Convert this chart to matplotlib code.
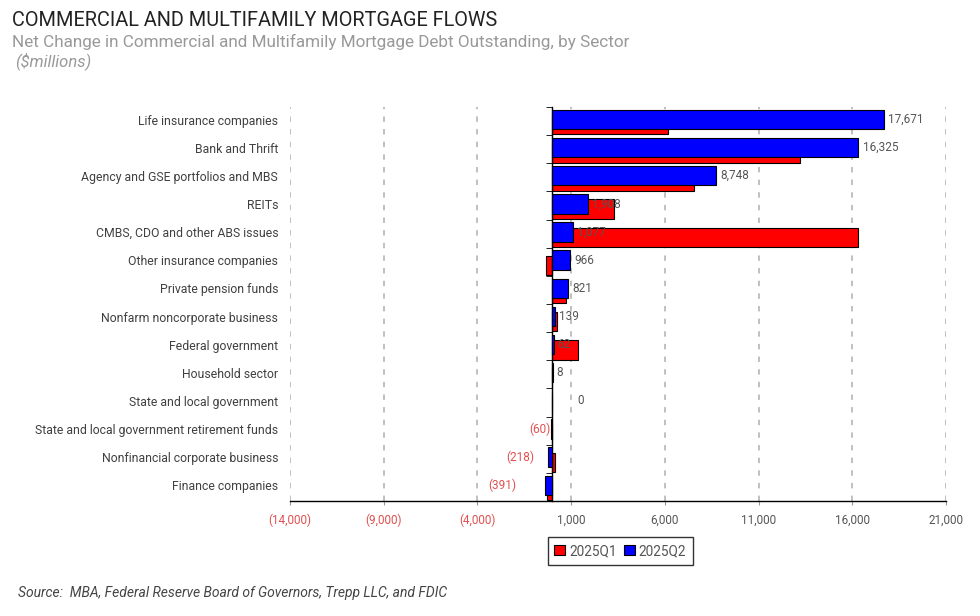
import numpy as np
import matplotlib
matplotlib.use("Agg")
import matplotlib.pyplot as plt
from matplotlib.transforms import blended_transform_factory

plt.rcParams['font.family'] = ['Roboto', 'DejaVu Sans']

sectors = ["Life insurance companies", "Bank and Thrift",
           "Agency and GSE portfolios and MBS", "REITs",
           "CMBS, CDO and other ABS issues", "Other insurance companies",
           "Private pension funds", "Nonfarm noncorporate business",
           "Federal government", "Household sector",
           "State and local government",
           "State and local government retirement funds",
           "Nonfinancial corporate business", "Finance companies"]
q1 = [6190, 13200, 7550, 3310, 16320, -340, 730, 250, 1370, 0, 0, -20, 130, -300]
q2 = [17671, 16325, 8748, 1908, 1077, 966, 821, 139, 62, 8, 0, -60, -218, -391]
xticks = [-14000, -9000, -4000, 1000, 6000, 11000, 16000, 21000]


def fmt(v):
    return f"({-v:,})" if v < 0 else f"{v:,}"


fig = plt.figure(figsize=(9.8, 6.16), dpi=100)
ax = fig.add_axes([0.2959, 0.1867, 0.6694, 0.6396])

y = np.arange(len(sectors))
ax.barh(y + 0.13, q1, height=0.69, color='#ff0000', edgecolor='black',
        linewidth=0.8, label='2025Q1', zorder=2)
ax.barh(y - 0.06, q2, height=0.69, color='#0000ff', edgecolor='black',
        linewidth=0.8, label='2025Q2', zorder=3)

ax.set_xlim(-14000, 21000)
ax.set_ylim(len(sectors) - 0.5, -0.5)
ax.set_xticks(xticks)
ax.set_xticklabels([fmt(t) for t in xticks], fontsize=8.4)
for lab, t in zip(ax.get_xticklabels(), xticks):
    lab.set_color('#e05050' if t < 0 else '#555555')
ax.tick_params(axis='x', length=3, pad=6, color='#999999')
ax.grid(axis='x', linestyle=(0, (3, 4)), color='#bbbbbb', linewidth=1.3)
ax.set_axisbelow(True)

for s in ['top', 'right']:
    ax.spines[s].set_visible(False)
ax.spines['left'].set_position(('data', 0))
ax.spines['left'].set_linewidth(1.0)
ax.spines['bottom'].set_linewidth(1.0)
ax.set_yticks([])
ax.set_yticks(np.arange(-0.5, len(sectors), 1), minor=True)
ax.tick_params(axis='y', which='minor', length=4, labelleft=False)

trans = blended_transform_factory(ax.transAxes, ax.transData)
for i, s in enumerate(sectors):
    ax.text(-0.018, i, s, transform=trans, ha='right', va='center',
            fontsize=8.8, color='#404040')

for i, v in enumerate(q2):
    if v >= 0:
        off = 18 if v == 0 else 3
        ax.annotate(fmt(v), (v, i - 0.06), xytext=(off, 0),
                    textcoords='offset points', ha='left', va='center',
                    fontsize=8.5, color='#555555', zorder=4)
    else:
        off = -(0.085 * abs(v) - 4) * 0.72
        ax.annotate(fmt(v), (v, i - 0.06), xytext=(off, 0),
                    textcoords='offset points', ha='right', va='center',
                    fontsize=8.5, color='#e05050', zorder=4)

leg = fig.legend(loc='center', bbox_to_anchor=(0.633, 0.1055), ncol=2,
                 fontsize=9.8, frameon=True, fancybox=False,
                 handlelength=0.8, handleheight=0.8, handletextpad=0.3,
                 columnspacing=0.5, borderpad=0.5)
leg.get_frame().set_edgecolor('black')
leg.get_frame().set_linewidth(1.0)
for t in leg.get_texts():
    t.set_color('#555555')

fig.text(0.012, 0.958, "COMMERCIAL AND MULTIFAMILY MORTGAGE FLOWS",
         fontsize=14.3, color='#222222', va='baseline')
fig.text(0.012, 0.924,
         "Net Change in Commercial and Multifamily Mortgage Debt Outstanding, by Sector",
         fontsize=12.3, color='#999999', va='baseline')
fig.text(0.015, 0.893, "($millions)", fontsize=12, color='#999999',
         style='italic', va='baseline')
fig.text(0.018, 0.031,
         "Source:  MBA, Federal Reserve Board of Governors, Trepp LLC, and FDIC",
         fontsize=10, color='#444444', style='italic', va='baseline')

fig.savefig("out.png", dpi=100)
